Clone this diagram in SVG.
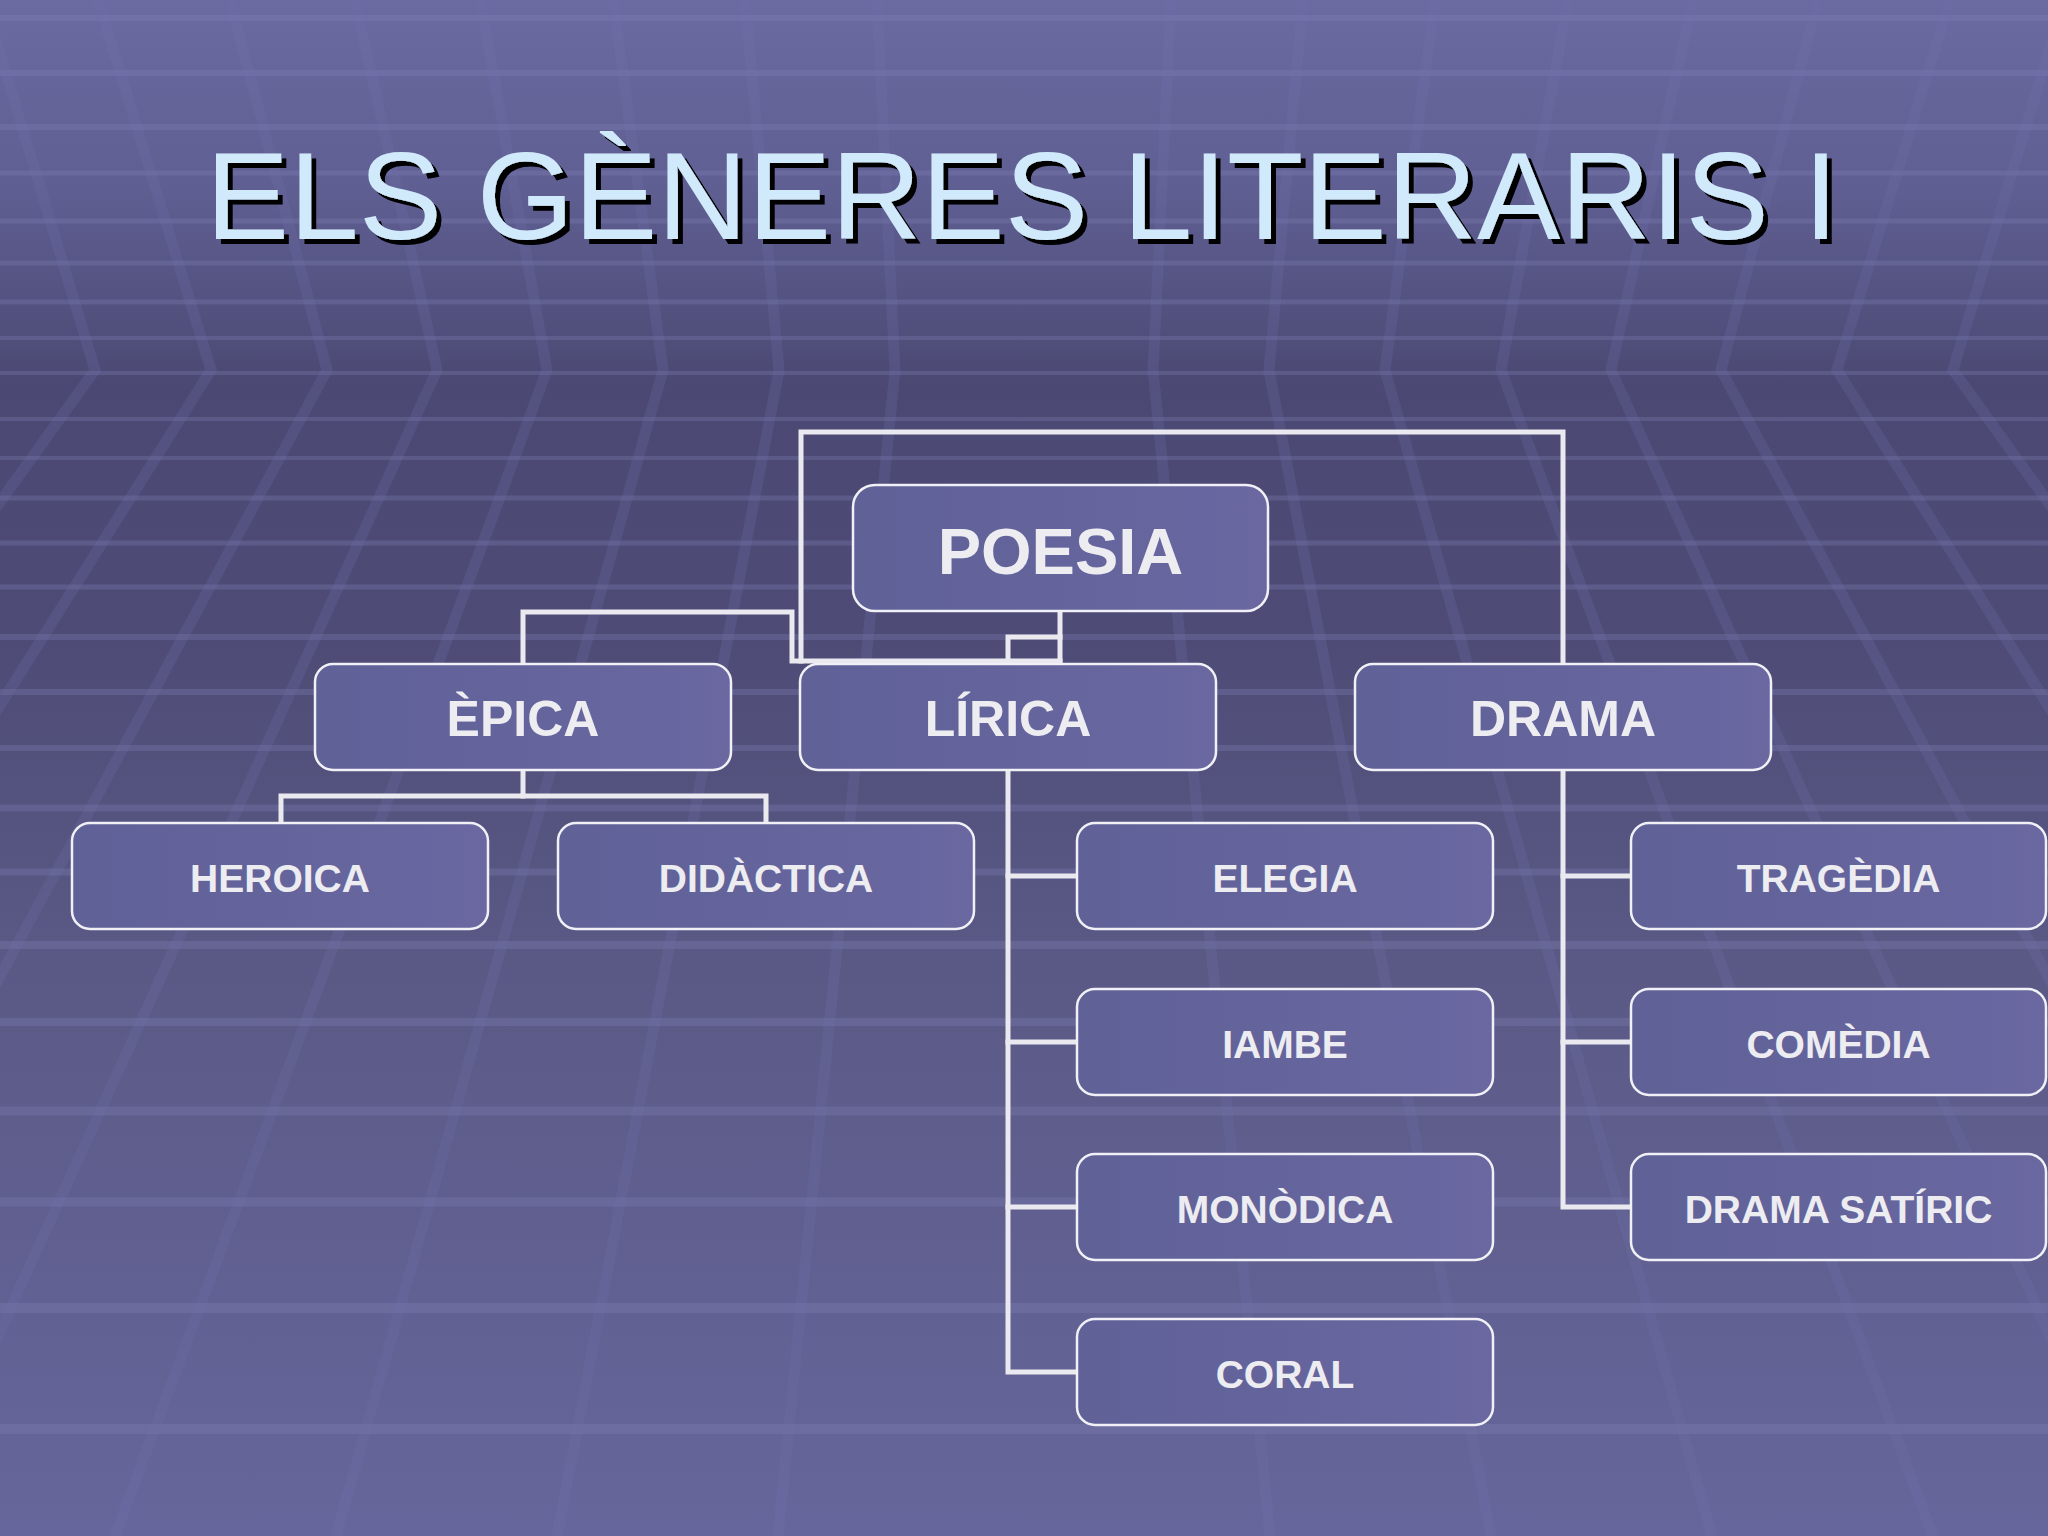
<svg xmlns="http://www.w3.org/2000/svg" width="2048" height="1536" viewBox="0 0 2048 1536">
  <defs>
    <linearGradient id="bg" x1="0" y1="0" x2="0" y2="1">
      <stop offset="0" stop-color="#6b6aa1"/>
      <stop offset="0.12" stop-color="#605f93"/>
      <stop offset="0.25" stop-color="#4b4973"/>
      <stop offset="0.42" stop-color="#4e4c77"/>
      <stop offset="0.62" stop-color="#5a5985"/>
      <stop offset="1" stop-color="#67669c"/>
    </linearGradient>
    <linearGradient id="boxfill" x1="0" y1="0" x2="1" y2="0">
      <stop offset="0" stop-color="#5f6197"/>
      <stop offset="1" stop-color="#6a67a1"/>
    </linearGradient>
    <filter id="shadow" x="-5%" y="-20%" width="110%" height="140%">
      <feOffset in="SourceAlpha" dx="5" dy="5" result="off"/>
      <feMerge>
        <feMergeNode in="off"/>
        <feMergeNode in="SourceGraphic"/>
      </feMerge>
    </filter>
    <style>
      .hl { stroke: #8584bb; stroke-opacity: 0.28; fill: none; }
      .dl { stroke: #7473ad; stroke-opacity: 0.22; stroke-width: 11; fill: none; stroke-linejoin: miter; }
      .box { fill: url(#boxfill); stroke: #f0f0f6; stroke-width: 2.5; }
      .lbl { font-family: "Liberation Sans", Arial, sans-serif; font-weight: bold; fill: #ececf1; text-anchor: middle; }
      .l1 { font-size: 65px; }
      .l2 { font-size: 50px; }
      .l3 { font-size: 39px; }
      .conn { stroke: #e9e9ef; stroke-width: 5; fill: none; stroke-linejoin: miter; stroke-linecap: square; }
      .title { font-family: "Liberation Sans", Arial, sans-serif; font-size: 125px; text-anchor: middle; fill: #d0eafc; }
    </style>
  </defs>

  <g id="background">
    <rect x="0" y="0" width="2048" height="1536" fill="url(#bg)"/>
    <g class="hl">
      <line x1="0" y1="18" x2="2048" y2="18" stroke-width="6"/>
      <line x1="0" y1="73" x2="2048" y2="73" stroke-width="6"/>
      <line x1="0" y1="127" x2="2048" y2="127" stroke-width="6"/>
      <line x1="0" y1="173" x2="2048" y2="173" stroke-width="5"/>
      <line x1="0" y1="221" x2="2048" y2="221" stroke-width="5"/>
      <line x1="0" y1="263" x2="2048" y2="263" stroke-width="5"/>
      <line x1="0" y1="302" x2="2048" y2="302" stroke-width="5"/>
      <line x1="0" y1="338" x2="2048" y2="338" stroke-width="4"/>
      <line x1="0" y1="373" x2="2048" y2="373" stroke-width="4"/>
      <line x1="0" y1="419" x2="2048" y2="419" stroke-width="4"/>
      <line x1="0" y1="458" x2="2048" y2="458" stroke-width="4"/>
      <line x1="0" y1="498" x2="2048" y2="498" stroke-width="5"/>
      <line x1="0" y1="543" x2="2048" y2="543" stroke-width="5"/>
      <line x1="0" y1="587" x2="2048" y2="587" stroke-width="5"/>
      <line x1="0" y1="637" x2="2048" y2="637" stroke-width="6"/>
      <line x1="0" y1="692" x2="2048" y2="692" stroke-width="6"/>
      <line x1="0" y1="748" x2="2048" y2="748" stroke-width="6"/>
      <line x1="0" y1="808" x2="2048" y2="808" stroke-width="7"/>
      <line x1="0" y1="872" x2="2048" y2="872" stroke-width="7"/>
      <line x1="0" y1="945" x2="2048" y2="945" stroke-width="8"/>
      <line x1="0" y1="1022" x2="2048" y2="1022" stroke-width="8"/>
      <line x1="0" y1="1111" x2="2048" y2="1111" stroke-width="9"/>
      <line x1="0" y1="1202" x2="2048" y2="1202" stroke-width="9"/>
      <line x1="0" y1="1308" x2="2048" y2="1308" stroke-width="10"/>
      <line x1="0" y1="1429" x2="2048" y2="1429" stroke-width="10"/>
    </g>
    <g class="dl">
      <polyline points="877,0 895,370 778,1536"/>
      <polyline points="745,0 779,370 557,1536"/>
      <polyline points="613,0 663,370 336,1536"/>
      <polyline points="480,0 547,370 115,1536"/>
      <polyline points="355,0 437,370 -93,1536"/>
      <polyline points="230,0 327,370 -302,1536"/>
      <polyline points="98,0 211,370 -523,1536"/>
      <polyline points="-16,0 95,370 -744,1536"/>
      <polyline points="1171,0 1153,370 1270,1536"/>
      <polyline points="1303,0 1269,370 1491,1536"/>
      <polyline points="1435,0 1385,370 1712,1536"/>
      <polyline points="1568,0 1501,370 1933,1536"/>
      <polyline points="1693,0 1611,370 2141,1536"/>
      <polyline points="1818,0 1721,370 2350,1536"/>
      <polyline points="1950,0 1837,370 2571,1536"/>
      <polyline points="2064,0 1953,370 2792,1536"/>
    </g>
  </g>

  <g id="title">
    <text class="title" x="1022" y="239" filter="url(#shadow)">ELS GÈNERES LITERARIS I</text>
  </g>

  <g id="connectors">
    <path class="conn" d="M523,664 V612 H792 V661 H1060"/>
    <path class="conn" d="M1563,664 V432 H801 V661"/>
    <path class="conn" d="M1060,611 V661"/>
    <path class="conn" d="M1008,664 V637 H1060"/>
    <path class="conn" d="M523,770 V796 H281 V823"/>
    <path class="conn" d="M523,796 H766 V823"/>
    <path class="conn" d="M1008,770 V1372 H1077"/>
    <path class="conn" d="M1008,876 H1077"/>
    <path class="conn" d="M1008,1042 H1077"/>
    <path class="conn" d="M1008,1207 H1077"/>
    <path class="conn" d="M1563,770 V1207 H1631"/>
    <path class="conn" d="M1563,876 H1631"/>
    <path class="conn" d="M1563,1042 H1631"/>
  </g>

  <g id="node-poesia">
    <rect class="box" x="853" y="485" width="415" height="126" rx="22" ry="22"/>
    <text class="lbl l1" x="1060.5" y="574">POESIA</text>
  </g>
  <g id="node-epica">
    <rect class="box" x="315" y="664" width="416" height="106" rx="18" ry="18"/>
    <text class="lbl l2" x="523" y="736">ÈPICA</text>
  </g>
  <g id="node-lirica">
    <rect class="box" x="800" y="664" width="416" height="106" rx="18" ry="18"/>
    <text class="lbl l2" x="1008" y="736">LÍRICA</text>
  </g>
  <g id="node-drama">
    <rect class="box" x="1355" y="664" width="416" height="106" rx="18" ry="18"/>
    <text class="lbl l2" x="1563" y="736">DRAMA</text>
  </g>
  <g id="node-heroica">
    <rect class="box" x="72" y="823" width="416" height="106" rx="18" ry="18"/>
    <text class="lbl l3" x="280" y="892">HEROICA</text>
  </g>
  <g id="node-didactica">
    <rect class="box" x="558" y="823" width="416" height="106" rx="18" ry="18"/>
    <text class="lbl l3" x="766" y="892">DIDÀCTICA</text>
  </g>
  <g id="node-elegia">
    <rect class="box" x="1077" y="823" width="416" height="106" rx="18" ry="18"/>
    <text class="lbl l3" x="1285" y="892">ELEGIA</text>
  </g>
  <g id="node-iambe">
    <rect class="box" x="1077" y="989" width="416" height="106" rx="18" ry="18"/>
    <text class="lbl l3" x="1285" y="1058">IAMBE</text>
  </g>
  <g id="node-monodica">
    <rect class="box" x="1077" y="1154" width="416" height="106" rx="18" ry="18"/>
    <text class="lbl l3" x="1285" y="1223">MONÒDICA</text>
  </g>
  <g id="node-coral">
    <rect class="box" x="1077" y="1319" width="416" height="106" rx="18" ry="18"/>
    <text class="lbl l3" x="1285" y="1388">CORAL</text>
  </g>
  <g id="node-tragedia">
    <rect class="box" x="1631" y="823" width="415" height="106" rx="18" ry="18"/>
    <text class="lbl l3" x="1838.5" y="892">TRAGÈDIA</text>
  </g>
  <g id="node-comedia">
    <rect class="box" x="1631" y="989" width="415" height="106" rx="18" ry="18"/>
    <text class="lbl l3" x="1838.5" y="1058">COMÈDIA</text>
  </g>
  <g id="node-drama-satiric">
    <rect class="box" x="1631" y="1154" width="415" height="106" rx="18" ry="18"/>
    <text class="lbl l3" x="1838.5" y="1223">DRAMA SATÍRIC</text>
  </g>
</svg>
